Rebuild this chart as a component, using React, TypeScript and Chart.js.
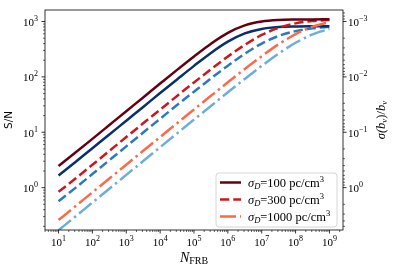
import React, { useEffect, useRef } from 'react';
import { Chart, registerables } from 'chart.js';

Chart.register(...registerables);

// ---- data ----
const nFRB = [1e1, 3.162e1, 1e2, 3.162e2, 1e3, 3.162e3, 1e4, 3.162e4, 1e5, 3.162e5, 1e6, 3.162e6, 1e7, 3.162e7, 1e8, 3.162e8, 1e9];

const snrSigma100 = [2.45, 4.3, 7.6, 13.5, 24.0, 42.6, 75.7, 134, 234, 398, 625, 853, 1000, 1065, 1085, 1092, 1095];
const snrSigma300 = [0.84, 1.46, 2.59, 4.6, 8.2, 14.5, 25.6, 45.3, 79.4, 137, 233, 379, 571, 770, 926, 1020, 1065];
const snrSigma1000 = [0.26, 0.462, 0.822, 1.46, 2.6, 4.62, 8.2, 14.6, 25.8, 45.5, 80, 139, 237, 389, 592, 806, 980];

// blue family (drawn against the inverted sigma(b)/b axis, shown here in S/N units)
const bnuSigma100 = [1.65, 2.9, 5.15, 9.1, 16.2, 28.7, 51, 90, 158, 271, 433, 610, 735, 795, 815, 822, 825];
const bnuSigma300 = [0.57, 0.99, 1.76, 3.13, 5.56, 9.88, 17.5, 31, 54, 93.6, 159.5, 261.5, 400, 550, 671, 753, 803];
const bnuSigma1000 = [0.17, 0.302, 0.538, 0.956, 1.7, 3.02, 5.37, 9.55, 16.9, 29.9, 52.6, 91.9, 158, 263, 413, 584, 735];

const legendLabels = ['100', '300', '1000'];
const xTickExps = [1, 2, 3, 4, 5, 6, 7, 8, 9];
const yLeftTickExps = [0, 1, 2, 3];
const yRightTickExps = [-3, -2, -1, 0];

const X_MIN = 3.981;
const X_MAX = 2.512e9;
const Y_MIN = 0.1718;
const Y_MAX = 1614;

const SERIF = '"Liberation Serif", "DejaVu Serif", serif';
const SANS = '"DejaVu Sans", sans-serif';

const C_DARKRED = '#67000d';
const C_RED = '#cb181d';
const C_SALMON = '#fb6a4a';
const C_DARKBLUE = '#08306b';
const C_BLUE = '#2b7bba';
const C_LIGHTBLUE = '#6baed6';

const DASHED = [9.25, 4];
const DASHDOT = [16, 4, 2.5, 4];

type Part = { t: string; font: string; dy: number };

function measureParts(ctx: CanvasRenderingContext2D, parts: Part[]) {
  let w = 0;
  for (const p of parts) {
    ctx.font = p.font;
    w += ctx.measureText(p.t).width;
  }
  return w;
}

function drawParts(ctx: CanvasRenderingContext2D, parts: Part[], x: number, y: number, align: 'left' | 'right' | 'center') {
  const total = measureParts(ctx, parts);
  let cx = align === 'left' ? x : align === 'right' ? x - total : x - total / 2;
  ctx.textAlign = 'left';
  ctx.textBaseline = 'alphabetic';
  for (const p of parts) {
    ctx.font = p.font;
    ctx.fillText(p.t, cx, y + p.dy);
    cx += ctx.measureText(p.t).width;
  }
}

function powParts(exp: number): Part[] {
  const e = exp < 0 ? '\u2212' + String(-exp) : String(exp);
  return [
    { t: '10', font: `11px ${SERIF}`, dy: 0 },
    { t: e, font: `8px ${SERIF}`, dy: -5 },
  ];
}

const decor = {
  id: 'decor',
  afterDraw(chart: any) {
    const ctx: CanvasRenderingContext2D = chart.ctx;
    const { left, right, top, bottom } = chart.chartArea;
    const xs = chart.scales.x;
    const ys = chart.scales.y;
    ctx.save();
    // frame
    ctx.strokeStyle = '#000';
    ctx.lineWidth = 0.8;
    ctx.setLineDash([]);
    ctx.strokeRect(left, top, right - left, bottom - top);

    // ticks
    const tick = (x1: number, y1: number, x2: number, y2: number, major: boolean) => {
      ctx.lineWidth = major ? 0.8 : 0.6;
      ctx.beginPath();
      ctx.moveTo(x1, y1);
      ctx.lineTo(x2, y2);
      ctx.stroke();
    };
    for (let k = -1; k <= 10; k++) {
      for (let m = 1; m <= 9; m++) {
        const v = m * Math.pow(10, k);
        if (v >= X_MIN && v <= X_MAX) {
          const px = xs.getPixelForValue(v);
          tick(px, bottom, px, bottom + (m === 1 ? 3.5 : 2), m === 1);
        }
        if (v >= Y_MIN && v <= Y_MAX) {
          const py = ys.getPixelForValue(v);
          tick(left, py, left - (m === 1 ? 3.5 : 2), py, m === 1);
        }
      }
    }
    for (let k = -5; k <= 1; k++) {
      for (let m = 1; m <= 9; m++) {
        const v = m * Math.pow(10, k);
        const inv = 1 / v;
        if (inv >= Y_MIN && inv <= Y_MAX) {
          const py = ys.getPixelForValue(inv);
          tick(right, py, right + (m === 1 ? 3.5 : 2), py, m === 1);
        }
      }
    }

    // tick labels
    ctx.fillStyle = '#000';
    for (const e of xTickExps) {
      const px = xs.getPixelForValue(Math.pow(10, e));
      drawParts(ctx, powParts(e), px, bottom + 15.5, 'center');
    }
    for (const e of yLeftTickExps) {
      const py = ys.getPixelForValue(Math.pow(10, e));
      drawParts(ctx, powParts(e), left - 7, py + 4.5, 'right');
    }
    for (const e of yRightTickExps) {
      const py = ys.getPixelForValue(Math.pow(10, -e));
      drawParts(ctx, powParts(e), right + 5, py + 4.5, 'left');
    }

    // x title
    drawParts(
      ctx,
      [
        { t: 'N', font: `italic 14px ${SERIF}`, dy: 0 },
        { t: 'FRB', font: `10px ${SERIF}`, dy: 2 },
      ],
      (left + right) / 2,
      bottom + 31.5,
      'center'
    );

    // left title
    ctx.save();
    ctx.translate(11.5, (top + bottom) / 2);
    ctx.rotate(-Math.PI / 2);
    ctx.font = `10.5px ${SANS}`;
    ctx.textAlign = 'center';
    ctx.textBaseline = 'alphabetic';
    ctx.fillText('S/N', 0, 0);
    ctx.restore();

    // right title
    ctx.save();
    ctx.translate(385, (top + bottom) / 2);
    ctx.rotate(-Math.PI / 2);
    drawParts(
      ctx,
      [
        { t: '\u03c3(', font: `italic 12.5px ${SERIF}`, dy: 0 },
        { t: 'b', font: `italic 12.5px ${SERIF}`, dy: 0 },
        { t: '\u03bd', font: `italic 9px ${SERIF}`, dy: 2 },
        { t: ')/', font: `12.5px ${SERIF}`, dy: 0 },
        { t: 'b', font: `italic 12.5px ${SERIF}`, dy: 0 },
        { t: '\u03bd', font: `italic 9px ${SERIF}`, dy: 2 },
      ],
      0,
      0,
      'center'
    );
    ctx.restore();

    // legend
    const lx = 216, ly = 173, lw = 121, lh = 54;
    ctx.beginPath();
    const r = 3;
    ctx.moveTo(lx + r, ly);
    ctx.lineTo(lx + lw - r, ly);
    ctx.quadraticCurveTo(lx + lw, ly, lx + lw, ly + r);
    ctx.lineTo(lx + lw, ly + lh - r);
    ctx.quadraticCurveTo(lx + lw, ly + lh, lx + lw - r, ly + lh);
    ctx.lineTo(lx + r, ly + lh);
    ctx.quadraticCurveTo(lx, ly + lh, lx, ly + lh - r);
    ctx.lineTo(lx, ly + r);
    ctx.quadraticCurveTo(lx, ly, lx + r, ly);
    ctx.closePath();
    ctx.fillStyle = 'rgba(255,255,255,0.8)';
    ctx.fill();
    ctx.strokeStyle = '#cccccc';
    ctx.lineWidth = 0.8;
    ctx.stroke();

    const styles = [
      { c: C_DARKRED, d: [] as number[] },
      { c: C_RED, d: DASHED },
      { c: C_SALMON, d: DASHDOT },
    ];
    legendLabels.forEach((lab, i) => {
      const ry = 182.5 + i * 17;
      ctx.strokeStyle = styles[i].c;
      ctx.lineWidth = 2.5;
      ctx.setLineDash(styles[i].d);
      ctx.lineDashOffset = 0;
      ctx.beginPath();
      ctx.moveTo(220, ry);
      ctx.lineTo(241, ry);
      ctx.stroke();
      ctx.setLineDash([]);
      ctx.fillStyle = '#000';
      drawParts(
        ctx,
        [
          { t: '\u03c3', font: `italic 12.5px ${SERIF}`, dy: 0 },
          { t: 'D', font: `italic 8.5px ${SERIF}`, dy: 2 },
          { t: '=' + lab + ' pc/cm', font: `12.5px ${SERIF}`, dy: 0 },
          { t: '3', font: `8.5px ${SERIF}`, dy: -5 },
        ],
        248,
        ry + 4,
        'left'
      );
    });

    ctx.restore();
  },
};

function mk(arr: number[]) {
  return nFRB.map((x, i) => ({ x, y: arr[i] }));
}

export default function App() {
  const ref = useRef<HTMLCanvasElement | null>(null);
  useEffect(() => {
    if (!ref.current) return;
    const base = { pointRadius: 0, borderWidth: 2.5, fill: false, cubicInterpolationMode: 'monotone' as const, borderCapStyle: 'butt' as const };
    const chart = new Chart(ref.current, {
      type: 'line',
      data: {
        datasets: [
          { ...base, label: 'sigma 100', data: mk(snrSigma100), borderColor: C_DARKRED, borderDash: [] },
          { ...base, label: 'sigma 300', data: mk(snrSigma300), borderColor: C_RED, borderDash: DASHED },
          { ...base, label: 'sigma 1000', data: mk(snrSigma1000), borderColor: C_SALMON, borderDash: DASHDOT },
          { ...base, label: 'b sigma 100', data: mk(bnuSigma100), borderColor: C_DARKBLUE, borderDash: [] },
          { ...base, label: 'b sigma 300', data: mk(bnuSigma300), borderColor: C_BLUE, borderDash: DASHED },
          { ...base, label: 'b sigma 1000', data: mk(bnuSigma1000), borderColor: C_LIGHTBLUE, borderDash: DASHDOT },
        ],
      },
      options: {
        animation: false,
        responsive: false,
        devicePixelRatio: 1,
        layout: { padding: { left: 45, right: 52, top: 10, bottom: 39 } },
        plugins: { legend: { display: false }, tooltip: { enabled: false } },
        events: [],
        scales: {
          x: { type: 'logarithmic', min: X_MIN, max: X_MAX, display: false },
          y: { type: 'logarithmic', min: Y_MIN, max: Y_MAX, display: false },
        },
      },
      plugins: [decor],
    });
    return () => chart.destroy();
  }, []);
  return (
    <div style={{ position: 'absolute', left: 0, top: 0, width: 395, height: 269, background: '#fff' }}>
      <canvas ref={ref} width={395} height={269} style={{ display: 'block' }} />
    </div>
  );
}
